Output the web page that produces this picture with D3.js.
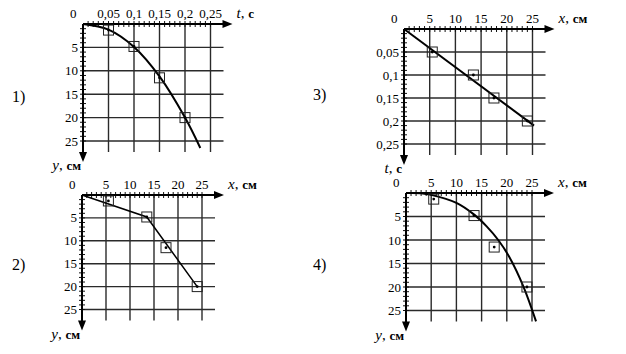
<!DOCTYPE html>
<html>
<head>
<meta charset="utf-8">
<script src="https://cdn.jsdelivr.net/npm/d3@7"></script>
<style>
  body { margin: 0; background: #fff; }
  svg { display: block; }
</style>
</head>
<body>
<svg id="chart" width="626" height="354"></svg>
<script>
// measured points (same 4 throws in every panel)
const tVals = [0.05, 0.1, 0.15, 0.2];
const xVals = [5.5, 13.5, 17.5, 24];
const yVals = [1.3, 4.8, 11.5, 20];

const tTicks = [0.05, 0.1, 0.15, 0.2, 0.25];
const tTickLabels = ["0,05", "0,1", "0,15", "0,2", "0,25"];
const cmTicks = [5, 10, 15, 20, 25];
const cmTickLabels = ["5", "10", "15", "20", "25"];

// lines drawn through the points
const curve1 = [[0, 0], [0.05, 1.2], [0.1, 4.9], [0.15, 11.2], [0.2, 20], [0.23, 26.5]];
const line2 = [[0, 0], [13.5, 4.8], [24, 20]];
const line3 = [[0, 0], [25.3, 0.21]];
const curve4 = [[0, 0], [3, 0.05], [5, 0.4], [10, 2.1], [13.4, 4.5], [16, 7.1], [18.3, 10], [20.5, 13.6], [23.3, 19.9], [25.8, 27.3]];

const svg = d3.select("#chart").style("font-family", "Liberation Serif, Times New Roman, serif");

const panels = [
  {num: "1)", nx: 12, ny: 102, ox: 83, oy: 24, w: 127.5, h: 117,
   xTicks: tTicks, xLabels: tTickLabels, xMinor: 0.01, xMax: 0.25,
   yTicks: cmTicks, yLabels: cmTickLabels, yMinor: 1, yMax: 25,
   xName: ["t", "с"], yName: ["y", "см"],
   pts: tVals.map((t, i) => [t, yVals[i]]), line: curve1, curve: d3.curveCatmullRom, lw: 2},
  {num: "2)", nx: 12, ny: 270, ox: 82, oy: 195, w: 120, h: 114.5,
   xTicks: cmTicks, xLabels: cmTickLabels, xMinor: 1, xMax: 25,
   yTicks: cmTicks, yLabels: cmTickLabels, yMinor: 1, yMax: 25,
   xName: ["x", "см"], yName: ["y", "см"],
   pts: xVals.map((x, i) => [x, yVals[i]]), line: line2, curve: d3.curveLinear, lw: 1.5},
  {num: "3)", nx: 313, ny: 100, ox: 404, oy: 29, w: 128.5, h: 115,
   xTicks: cmTicks, xLabels: cmTickLabels, xMinor: 1, xMax: 25,
   yTicks: tTicks, yLabels: tTickLabels, yMinor: 0.01, yMax: 0.25,
   xName: ["x", "см"], yName: ["t", "с"],
   pts: xVals.map((x, i) => [x, tVals[i]]), line: line3, curve: d3.curveLinear, lw: 2},
  {num: "4)", nx: 313, ny: 270, ox: 406, oy: 193, w: 126, h: 117.5,
   xTicks: cmTicks, xLabels: cmTickLabels, xMinor: 1, xMax: 25,
   yTicks: cmTicks, yLabels: cmTickLabels, yMinor: 1, yMax: 25,
   xName: ["x", "см"], yName: ["y", "см"],
   pts: xVals.map((x, i) => [x, yVals[i]]), line: curve4, curve: d3.curveCatmullRom, lw: 2}
];

function drawPanel(p) {
  const x = d3.scaleLinear().domain([0, p.xMax]).range([p.ox, p.ox + p.w]);
  const y = d3.scaleLinear().domain([0, p.yMax]).range([p.oy, p.oy + p.h]);
  const gridR = p.ox + p.w + 13, gridB = p.oy + p.h + 11;
  const arrowR = p.ox + p.w + 22, arrowB = p.oy + p.h + 21;
  const g = svg.append("g");

  g.append("text").attr("x", p.nx).attr("y", p.ny)
    .attr("font-size", 16).text(p.num);

  // grid
  g.append("g").selectAll("line").data(p.xTicks).join("line")
    .attr("x1", d => x(d)).attr("x2", d => x(d))
    .attr("y1", p.oy).attr("y2", gridB)
    .attr("stroke", "#2a2a2a").attr("stroke-width", 1.4);
  g.append("g").selectAll("line").data(p.yTicks).join("line")
    .attr("y1", d => y(d)).attr("y2", d => y(d))
    .attr("x1", p.ox).attr("x2", gridR)
    .attr("stroke", "#2a2a2a").attr("stroke-width", 1.4);

  // minor ticks across the axes
  const xm = d3.range(1, Math.round(p.xMax / p.xMinor) + 1).map(i => i * p.xMinor);
  const ym = d3.range(1, Math.round(p.yMax / p.yMinor) + 1).map(i => i * p.yMinor);
  g.append("g").selectAll("line").data(xm).join("line")
    .attr("x1", d => x(d)).attr("x2", d => x(d))
    .attr("y1", p.oy - 3).attr("y2", p.oy + 3)
    .attr("stroke", "#111").attr("stroke-width", 1);
  g.append("g").selectAll("line").data(ym).join("line")
    .attr("y1", d => y(d)).attr("y2", d => y(d))
    .attr("x1", p.ox - 3).attr("x2", p.ox + 3)
    .attr("stroke", "#111").attr("stroke-width", 1);

  // axes with arrows
  g.append("line").attr("x1", p.ox).attr("y1", p.oy).attr("x2", arrowR - 6).attr("y2", p.oy)
    .attr("stroke", "#000").attr("stroke-width", 2);
  g.append("path").attr("d", `M${arrowR},${p.oy}L${arrowR - 10},${p.oy - 4}L${arrowR - 10},${p.oy + 4}Z`);
  g.append("line").attr("x1", p.ox).attr("y1", p.oy).attr("x2", p.ox).attr("y2", arrowB - 6)
    .attr("stroke", "#000").attr("stroke-width", 2);
  g.append("path").attr("d", `M${p.ox},${arrowB}L${p.ox - 4},${arrowB - 10}L${p.ox + 4},${arrowB - 10}Z`);

  // tick labels
  g.append("text").attr("x", p.ox - 13).attr("y", p.oy - 6)
    .attr("font-size", 13).text("0");
  g.append("g").selectAll("text").data(p.xTicks).join("text")
    .attr("x", d => x(d)).attr("y", p.oy - 6)
    .attr("text-anchor", "middle").attr("font-size", 13)
    .text((d, i) => p.xLabels[i]);
  g.append("g").selectAll("text").data(p.yTicks).join("text")
    .attr("x", p.ox - 5).attr("y", d => y(d)).attr("dy", "0.35em")
    .attr("text-anchor", "end").attr("font-size", 13)
    .text((d, i) => p.yLabels[i]);

  // axis names
  const xt = g.append("text").attr("x", arrowR + 4).attr("y", p.oy - 6).attr("font-size", 15);
  xt.append("tspan").attr("font-style", "italic").text(p.xName[0]);
  xt.append("tspan").text(", ");
  xt.append("tspan").attr("font-weight", "bold").attr("font-size", 13).text(p.xName[1]);
  const yt = g.append("text").attr("x", p.ox - 2).attr("y", arrowB + 8)
    .attr("text-anchor", "end").attr("font-size", 15);
  yt.append("tspan").attr("font-style", "italic").text(p.yName[0]);
  yt.append("tspan").text(", ");
  yt.append("tspan").attr("font-weight", "bold").attr("font-size", 13).text(p.yName[1]);

  // fitted line
  g.append("path").datum(p.line)
    .attr("d", d3.line().x(d => x(d[0])).y(d => y(d[1])).curve(p.curve))
    .attr("fill", "none").attr("stroke", "#000").attr("stroke-width", p.lw);

  // measured points: square frame with a dot
  g.append("g").selectAll("rect").data(p.pts).join("rect")
    .attr("x", d => x(d[0]) - 5).attr("y", d => y(d[1]) - 5)
    .attr("width", 10).attr("height", 10)
    .attr("fill", "none").attr("stroke", "#222").attr("stroke-width", 1);
  g.append("g").selectAll("circle").data(p.pts).join("circle")
    .attr("cx", d => x(d[0])).attr("cy", d => y(d[1])).attr("r", 1.4)
    .attr("fill", "#000");
}

panels.forEach(drawPanel);
</script>
</body>
</html>
